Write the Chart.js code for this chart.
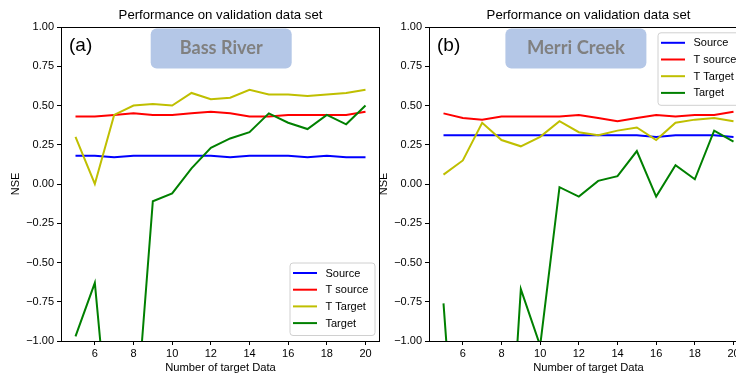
<!DOCTYPE html>
<html>
<head>
<meta charset="utf-8">
<script src="https://cdn.jsdelivr.net/npm/chart.js@4.4.1/dist/chart.umd.min.js"></script>
<style>
    html, body { margin: 0; padding: 0; background: #fff; overflow: hidden; width: 736px; height: 376px; }
    .plot { position: absolute; top: 0; height: 376px; width: 380px; }
    #plot-a { left: 0; }
    #plot-b { left: 368px; }
</style>
</head>
<body>
<div class="plot" id="plot-a"><canvas id="canvas-a"></canvas></div>
<div class="plot" id="plot-b"><canvas id="canvas-b"></canvas></div>
<script>
// Data
const nTarget = [5, 6, 7, 8, 9, 10, 11, 12, 13, 14, 15, 16, 17, 18, 19, 20];
const xTicks = [6, 8, 10, 12, 14, 16, 18, 20];
const yTicks = [-1, -0.75, -0.5, -0.25, 0, 0.25, 0.5, 0.75, 1];

const seriesNames = ['Source', 'T source', 'T Target', 'Target'];
const seriesColors = ['#0000ff', '#ff0000', '#bfbf00', '#008000'];

// (a) Bass River
const sourceA  = [0.18, 0.18, 0.17, 0.18, 0.18, 0.18, 0.18, 0.18, 0.17, 0.18, 0.18, 0.18, 0.17, 0.18, 0.17, 0.17];
const tSourceA = [0.43, 0.43, 0.44, 0.45, 0.44, 0.44, 0.45, 0.46, 0.45, 0.43, 0.43, 0.44, 0.44, 0.44, 0.44, 0.46];
const tTargetA = [0.30, 0.00, 0.44, 0.50, 0.51, 0.50, 0.58, 0.54, 0.55, 0.60, 0.57, 0.57, 0.56, 0.57, 0.58, 0.60];
const targetA  = [-0.97, -0.63, -1.95, -1.70, -0.11, -0.06, 0.10, 0.23, 0.29, 0.33, 0.45, 0.39, 0.35, 0.44, 0.38, 0.50];

// (b) Merri Creek
const sourceB  = [0.31, 0.31, 0.31, 0.31, 0.31, 0.31, 0.31, 0.31, 0.31, 0.31, 0.31, 0.30, 0.31, 0.31, 0.31, 0.30];
const tSourceB = [0.45, 0.42, 0.41, 0.43, 0.43, 0.43, 0.43, 0.44, 0.42, 0.40, 0.42, 0.44, 0.43, 0.44, 0.44, 0.46];
const tTargetB = [0.06, 0.15, 0.39, 0.28, 0.24, 0.30, 0.40, 0.33, 0.31, 0.34, 0.36, 0.28, 0.39, 0.41, 0.42, 0.40];
const targetB  = [-0.76, -2.45, -2.50, -2.60, -0.67, -1.03, -0.02, -0.08, 0.02, 0.05, 0.21, -0.08, 0.12, 0.03, 0.34, 0.27];

const FONT = "'Liberation Sans', Arial, sans-serif";
Chart.defaults.font.family = FONT;
Chart.defaults.color = '#000';

// Annotations, frame and legend drawn on top of the plot
const decorPlugin = {
    id: 'decor',
    afterDraw(chart, args, opts) {
        let ctx = chart.ctx;
        let area = chart.chartArea;
        ctx.save();

        // full frame (matplotlib spines)
        ctx.strokeStyle = '#000';
        ctx.lineWidth = 1;
        ctx.strokeRect(Math.round(area.left) + 0.5, Math.round(area.top) + 0.5,
            Math.round(area.right - area.left) - 1, Math.round(area.bottom - area.top));

        // panel tag
        ctx.fillStyle = '#000';
        ctx.font = '19px ' + FONT;
        ctx.textAlign = 'left';
        ctx.textBaseline = 'middle';
        ctx.fillText(opts.tag, area.left + 8, area.top + 18.5);

        // river name box
        let bx = area.left + opts.boxX;
        let by = area.top + 1.5;
        ctx.fillStyle = '#b4c7e7';
        ctx.beginPath();
        ctx.roundRect(bx, by, 141, 40, 6);
        ctx.fill();
        ctx.font = "bold 18px Lato, 'Open Sans', sans-serif";
        let w = ctx.measureText(opts.river).width;
        let size = 18 * opts.riverWidth / w;
        ctx.font = 'bold ' + size.toFixed(1) + "px Lato, 'Open Sans', sans-serif";
        ctx.fillStyle = '#808080';
        ctx.textAlign = 'center';
        ctx.fillText(opts.river, bx + 70.5, by + 20);

        // legend
        let lw = 85, lh = 72.5;
        let lx = area.right - 5.5 - lw;
        let ly = opts.legendBottom ? area.bottom - 6 - lh : area.top + 5.3;
        ctx.fillStyle = 'rgba(255,255,255,0.8)';
        ctx.strokeStyle = '#d0d0d0';
        ctx.beginPath();
        ctx.roundRect(lx + 0.5, ly + 0.5, lw, lh, 3);
        ctx.fill();
        ctx.stroke();
        ctx.font = '11px ' + FONT;
        ctx.textAlign = 'left';
        chart.data.datasets.forEach((ds, i) => {
            let y = ly + 10.5 + i * 16.7;
            ctx.strokeStyle = ds.borderColor;
            ctx.lineWidth = 2;
            ctx.beginPath();
            ctx.moveTo(lx + 3.5, y);
            ctx.lineTo(lx + 27.5, y);
            ctx.stroke();
            ctx.fillStyle = '#000';
            ctx.fillText(ds.label, lx + 36, y + 0.5);
        });
        ctx.restore();
    }
};

function makeConfig(series, decor) {
    let datasets = [];
    for (let i = 0; i < series.length; i++) {
        datasets.push({
            label: seriesNames[i],
            data: nTarget.map((x, k) => ({x: x, y: series[i][k]})),
            borderColor: seriesColors[i],
            backgroundColor: seriesColors[i],
            borderWidth: 2,
            pointRadius: 0,
            tension: 0,
            clip: 0,
            order: series.length - i
        });
    }
    return {
        type: 'line',
        data: {datasets: datasets},
        plugins: [decorPlugin],
        options: {
            responsive: true,
            maintainAspectRatio: false,
            animation: false,
            events: [],
            layout: {padding: 0},
            scales: {
                x: {
                    type: 'linear',
                    min: 4.25,
                    max: 20.75,
                    afterBuildTicks: s => { s.ticks = xTicks.map(v => ({value: v})); },
                    afterFit: s => { s.height = 35; },
                    grid: {drawOnChartArea: false, tickLength: 4, color: '#000'},
                    border: {color: '#000'},
                    ticks: {font: {size: 11}, color: '#000', padding: 2, maxRotation: 0, autoSkip: false},
                    title: {display: true, text: 'Number of target Data', font: {size: 11.2}, color: '#000', padding: {top: 0, bottom: 1}}
                },
                y: {
                    min: -1,
                    max: 1,
                    afterBuildTicks: s => { s.ticks = yTicks.map(v => ({value: v})); },
                    afterFit: s => { s.width = 61; },
                    grid: {drawOnChartArea: false, tickLength: 4, color: '#000'},
                    border: {color: '#000'},
                    ticks: {
                        font: {size: 11}, color: '#000', padding: 3,
                        callback: v => v.toFixed(2).replace('-', '\u2212')
                    },
                    title: {display: true, text: 'NSE', font: {size: 11}, color: '#000', padding: {top: 9, bottom: 0}}
                }
            },
            plugins: {
                legend: {display: false},
                tooltip: {enabled: false},
                title: {
                    display: true,
                    text: 'Performance on validation data set',
                    fullSize: false,
                    color: '#000',
                    font: {size: 13.2, weight: 'normal'},
                    padding: {top: 7.3, bottom: 3.86}
                },
                decor: decor
            }
        }
    };
}

new Chart(document.getElementById('canvas-a').getContext('2d'),
    makeConfig([sourceA, tSourceA, tTargetA, targetA],
        {tag: '(a)', river: 'Bass River', boxX: 89.7, riverWidth: 83, legendBottom: true}));

new Chart(document.getElementById('canvas-b').getContext('2d'),
    makeConfig([sourceB, tSourceB, tTargetB, targetB],
        {tag: '(b)', river: 'Merri Creek', boxX: 76.4, riverWidth: 98, legendBottom: false}));
</script>
</body>
</html>
